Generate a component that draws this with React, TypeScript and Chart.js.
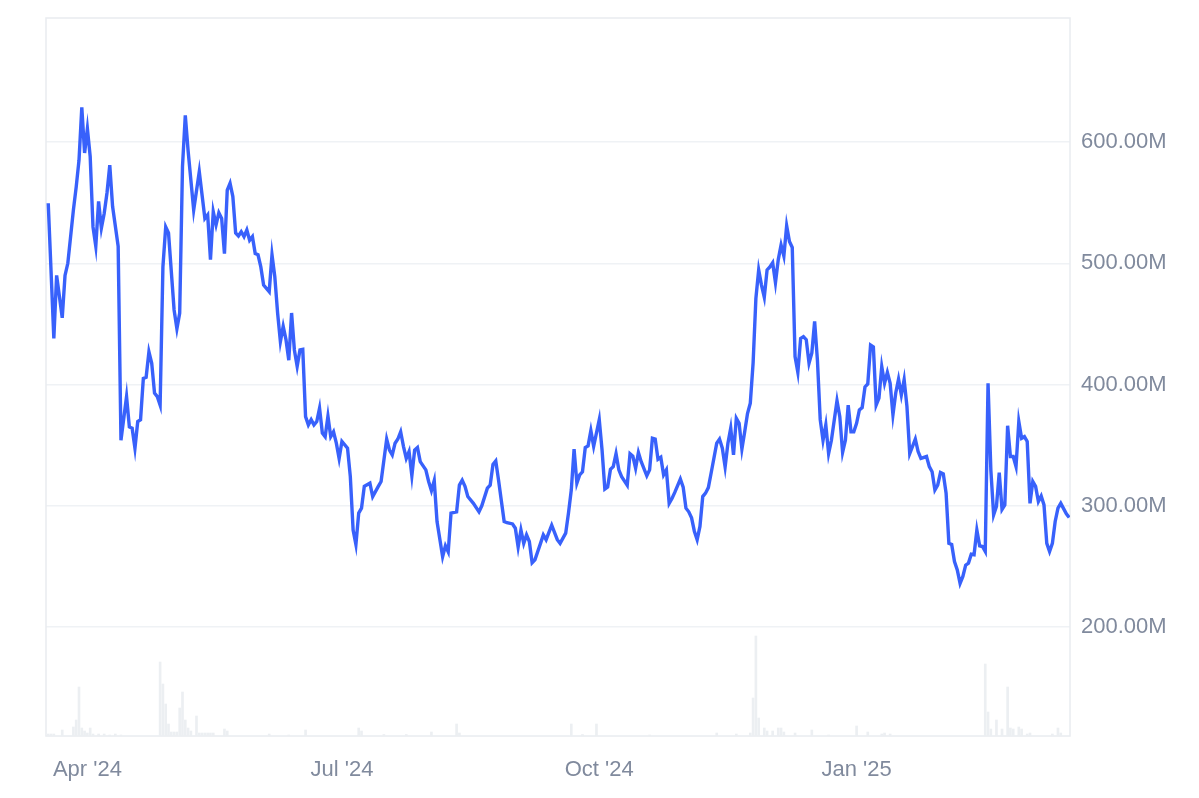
import { useEffect, useRef } from "react";
import { Chart, registerables } from "chart.js";
import type { Plugin } from "chart.js";

Chart.register(...registerables);

// day 0 = first day of the series
const START = "2024-03-18";

const tickDates = ["2024-04-01", "2024-07-01", "2024-10-01", "2025-01-01"];
const tickLabels = ["Apr '24", "Jul '24", "Oct '24", "Jan '25"];
const priceTicks = [200, 300, 400, 500, 600];

// price, in millions (day offsets from START)
const priceDays = [
  0, 2, 3, 5, 6, 7, 9, 10, 11, 12,
  13, 14, 15, 16, 17, 18, 19, 20, 21, 22,
  23, 25, 26, 28, 29, 30, 31, 32, 33, 34,
  35, 36, 37, 38, 39, 40, 41, 42, 43, 45,
  46, 47, 48, 49, 50, 52, 54, 56, 57, 58,
  59, 60, 61, 62, 63, 64, 65, 66, 67, 68,
  69, 70, 71, 72, 73, 74, 75, 76, 77, 79,
  80, 81, 82, 83, 84, 85, 86, 87, 88, 89,
  90, 91, 92, 93, 94, 95, 96, 97, 98, 99,
  100, 101, 102, 103, 104, 105, 107, 108, 109, 110,
  111, 112, 113, 115, 116, 118, 119, 121, 122, 123,
  124, 125, 126, 127, 128, 129, 130, 131, 132, 133,
  135, 136, 137, 138, 139, 141, 142, 143, 144, 146,
  147, 148, 149, 150, 152, 154, 155, 157, 158, 159,
  160, 161, 163, 164, 166, 167, 168, 169, 170, 171,
  172, 173, 174, 176, 177, 178, 180, 182, 183, 185,
  186, 187, 188, 189, 190, 191, 192, 193, 194, 195,
  197, 198, 199, 200, 201, 202, 203, 204, 205, 207,
  208, 209, 210, 211, 212, 214, 215, 216, 217, 218,
  219, 220, 221, 222, 223, 224, 226, 227, 228, 229,
  230, 231, 232, 233, 234, 235, 236, 237, 239, 240,
  241, 242, 243, 244, 245, 246, 247, 248, 249, 250,
  251, 252, 253, 254, 255, 256, 257, 258, 259, 260,
  261, 262, 263, 264, 265, 266, 267, 268, 269, 270,
  271, 272, 273, 274, 275, 276, 277, 278, 279, 280,
  282, 283, 284, 285, 286, 287, 288, 289, 290, 291,
  292, 293, 294, 295, 296, 297, 298, 299, 300, 301,
  302, 303, 304, 305, 306, 307, 308, 309, 310, 311,
  312, 314, 315, 316, 317, 318, 319, 320, 321, 322,
  323, 324, 325, 326, 327, 328, 329, 330, 331, 332,
  333, 334, 335, 336, 337, 338, 339, 340, 341, 342,
  343, 344, 345, 346, 347, 348, 349, 350, 351, 352,
  353, 354, 355, 356, 357, 358, 359, 360, 361, 362,
  364, 365,
];
const priceM = [
  549.5, 438, 490, 455, 490, 500, 544, 563, 585, 628.6,
  591, 611, 588, 530, 514, 551, 529, 541, 558, 581,
  547, 514, 354, 390, 365, 364, 347.5, 369.5, 371, 405,
  406, 427, 417.5, 393, 390, 383, 497, 530, 525, 461.5,
  446, 459, 580, 622, 593, 544, 575.5, 537, 540, 503,
  542.5, 531.6, 541.7, 537, 508, 560.4, 566, 555, 525, 522.5,
  526, 522, 527.5, 519, 522, 508, 507, 497, 482, 476.6,
  507, 489, 459, 435.4, 448, 437, 420, 459, 428.5, 415,
  428.5, 429, 373.5, 366.7, 371, 366.7, 369.5, 380.5, 360, 357,
  374, 357, 361, 351.6, 339, 353, 347.5, 324, 280, 268,
  294, 298, 316, 318.6, 307.6, 316, 320, 355, 346, 342,
  351.6, 355, 361, 349, 339, 344.7, 324.7, 346, 348, 336.4,
  329.6, 320, 312.5, 320.8, 287, 258, 267, 262, 294, 295,
  317, 321, 316, 307.6, 302, 295, 300, 314.5, 317, 334,
  337, 321, 287, 286, 285, 281.5, 266, 280, 269, 276,
  270.5, 253, 255.4, 269, 276, 272, 284, 272, 269, 277.4,
  294, 313, 346.7, 318.6, 325.5, 328, 348, 349.4, 362, 349,
  371, 346, 313.7, 315.4, 330, 332.3, 343, 329.6, 324, 317,
  343, 341, 331, 344, 336.4, 324.7, 329.6, 355.7, 355, 338.4,
  340, 325.5, 329.6, 302, 306, 311, 322, 315.4, 298, 295,
  290, 279, 272, 283, 307.6, 310.4, 315, 327, 351.6, 355,
  347.5, 332, 351.6, 364, 342, 372.2, 368, 346.7, 361, 376,
  384.6, 417.6, 471, 494.5, 482, 472, 494.5, 497, 500.5, 484,
  503, 515, 506, 531, 518, 513, 423, 410, 438, 439.5,
  437, 417.6, 426, 452, 420, 371, 354, 366.7, 343, 354,
  386.7, 373.5, 344, 354, 383, 361, 361, 368, 379, 381,
  398, 400.5, 432.6, 431, 383, 388.7, 414.8, 401, 410, 401,
  375, 393, 404.4, 391.4, 404, 382, 343, 349, 355, 344.7,
  339, 340.6, 332.3, 328, 313, 317, 327.4, 326.3, 310.4, 269,
  268, 254, 247, 236, 241.7, 251, 252.7, 260, 259.6, 280,
  267, 266.4, 262.3, 401, 329.6, 292.5, 299.4, 327.4, 297, 300.7,
  366, 340.6, 340.6, 332.3, 369.5, 355.7, 357, 353, 302, 320,
  316, 303.5, 308, 300.7, 269, 262.3, 269, 287, 298, 302,
  293.3, 290.3,
];

// faint volume bars at the bottom (relative units)
const volumeDays = [
  0, 1, 2, 5, 9, 10, 11, 12, 13, 14,
  15, 16, 18, 20, 22, 24, 26, 40, 41, 42,
  43, 44, 45, 46, 47, 48, 49, 50, 51, 53,
  54, 55, 56, 57, 58, 59, 63, 64, 79, 86,
  92, 111, 112, 120, 128, 137, 146, 147, 187, 191,
  196, 215, 239, 246, 251, 252, 253, 254, 256, 257,
  259, 261, 262, 263, 267, 273, 279, 289, 293, 298,
  299, 301, 335, 336, 337, 339, 341, 343, 344, 345,
  347, 348, 350, 351, 359, 361, 362,
];
const volumes = [
  2, 2, 2, 6, 9, 16, 49, 8, 5, 3,
  8, 2, 2, 2, 1, 2, 1, 74, 52, 32,
  12, 4, 4, 4, 28, 44, 16, 8, 5, 20,
  3, 3, 3, 3, 3, 3, 7, 5, 2, 1,
  6, 8, 5, 1.5, 1.5, 4, 12, 3, 12, 1.5,
  12, 1, 3, 2, 3, 38, 100, 18, 8, 5,
  5, 8, 8, 4, 3, 6, 1, 10, 4, 2,
  3, 2, 72, 24, 7, 16, 7, 49, 8, 7,
  9, 7, 2, 3, 2, 8, 3,
];

const DAY = 86400000;
const dayOf = (d: string) => (Date.parse(d) - Date.parse(START)) / DAY;
const tickDays = tickDates.map(dayOf);

const FONT = { family: "'Liberation Sans', Arial, sans-serif", size: 22 };
const TICK = "#808a9d";
const GRID = "#eff2f5";

const framePlugin: Plugin<"line"> = {
  id: "frame",
  beforeDatasetsDraw(chart) {
    const { ctx, chartArea: a } = chart;
    ctx.save();
    ctx.strokeStyle = "#e9ecf0";
    ctx.lineWidth = 1.5;
    ctx.strokeRect(a.left, a.top, a.right - a.left, a.bottom - a.top);
    ctx.restore();
  },
};

export default function App() {
  const canvasRef = useRef<HTMLCanvasElement | null>(null);

  useEffect(() => {
    const canvas = canvasRef.current;
    if (!canvas) return;
    const chart = new Chart(canvas, {
      type: "line",
      data: {
        datasets: [
          {
            type: "line",
            label: "Price",
            data: priceDays.map((d, i) => ({ x: d, y: priceM[i] })),
            borderColor: "#3861fb",
            borderWidth: 3.4,
            pointRadius: 0,
            tension: 0,
            yAxisID: "y",
            order: 0,
          },
          {
            type: "bar",
            label: "Volume",
            data: volumeDays.map((d, i) => ({ x: d, y: volumes[i] })),
            backgroundColor: "#eceff2",
            barThickness: 2,
            grouped: false,
            yAxisID: "y1",
            order: 1,
          } as any,
        ],
      },
      plugins: [framePlugin],
      options: {
        animation: false,
        responsive: true,
        maintainAspectRatio: false,
        layout: { padding: { left: 46, top: 18, right: 0, bottom: 0 } },
        plugins: { legend: { display: false }, tooltip: { enabled: false } },
        scales: {
          x: {
            type: "linear",
            min: -0.8,
            max: 365.3,
            offset: false,
            grid: { display: false, offset: false },
            border: { display: false },
            afterBuildTicks: (scale) => {
              scale.ticks = tickDays.map((v) => ({ value: v }));
            },
            afterFit: (scale: any) => {
              scale.height = 62;
              scale.paddingLeft = 0;
              scale.paddingRight = 0;
            },
            ticks: {
              autoSkip: false,
              maxRotation: 0,
              padding: 13,
              color: TICK,
              font: FONT,
              callback: (_v, i) => tickLabels[i],
            },
          },
          y: {
            position: "right",
            min: 110.1,
            max: 702.3,
            grid: { color: GRID, lineWidth: 1.5, drawTicks: false },
            border: { display: false },
            afterBuildTicks: (scale) => {
              scale.ticks = priceTicks.map((v) => ({ value: v }));
            },
            afterFit: (scale: any) => {
              scale.width = 129;
              scale.paddingTop = 0;
              scale.paddingBottom = 0;
            },
            ticks: {
              padding: 11,
              color: TICK,
              font: FONT,
              callback: (v) => `${Number(v).toFixed(2)}M`,
            },
          },
          y1: {
            display: false,
            min: 0,
            max: 718,
          },
        },
      },
    });
    return () => chart.destroy();
  }, []);

  return (
    <div
      style={{
        position: "fixed",
        left: 0,
        top: 0,
        width: 1199,
        height: 798,
        background: "#fff",
      }}
    >
      <canvas ref={canvasRef} role="img" aria-label="Price chart" />
    </div>
  );
}
